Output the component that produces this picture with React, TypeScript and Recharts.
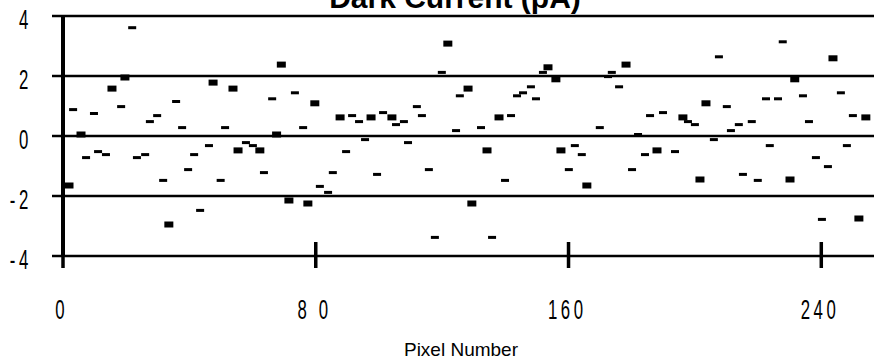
import React from 'react'
import { ScatterChart, Scatter, XAxis, YAxis, CartesianGrid } from 'recharts'

// readings drawn as thin dashes in the original
const dashPoints: Array<[number, number]> = [
    [3.2, 0.88], [9.8, 0.75], [18.4, 0.98], [21.9, 3.61], [27.5, 0.48], [29.8, 0.68],
    [35.8, 1.15], [37.7, 0.28], [51.3, 0.28], [66.2, 1.24], [73.4, 1.44], [76.0, 0.28],
    [91.5, 0.68], [93.7, 0.48], [101.3, 0.78], [105.4, 0.38], [107.9, 0.48], [112.0, 0.98],
    [113.6, 0.68], [119.9, 2.12], [124.4, 0.18], [125.6, 1.34], [132.3, 0.28], [141.8, 0.68],
    [143.7, 1.34], [145.6, 1.44], [148.1, 1.64], [149.7, 1.24], [151.9, 2.12], [169.9, 0.28],
    [172.5, 1.98], [173.7, 2.12], [176.0, 1.64], [182.0, 0.05], [185.8, 0.68], [189.9, 0.78],
    [197.8, 0.48], [200.0, 0.38], [207.6, 2.64], [210.1, 0.98], [211.4, 0.18], [213.9, 0.38],
    [218.0, 0.48], [222.5, 1.24], [226.3, 1.24], [227.8, 3.14], [234.2, 1.34], [236.1, 0.48],
    [246.2, 1.44], [250.0, 0.68],
    [7.3, -0.72], [11.1, -0.52], [13.6, -0.62], [23.4, -0.72], [26.0, -0.62], [31.7, -1.48],
    [39.6, -1.12], [41.5, -0.62], [43.4, -2.48], [46.2, -0.32], [49.9, -1.48], [57.9, -0.22],
    [60.1, -0.32], [63.6, -1.22], [81.3, -1.68], [83.9, -1.88], [85.4, -1.22], [89.6, -0.52],
    [95.6, -0.12], [99.4, -1.28], [109.2, -0.22], [115.8, -1.12], [117.7, -3.38], [135.8, -3.38],
    [139.9, -1.48], [160.1, -1.12], [162.0, -0.32], [164.2, -0.62], [180.1, -1.12], [184.2, -0.62],
    [193.7, -0.52], [206.0, -0.12], [215.2, -1.28], [219.9, -1.48], [223.7, -0.32], [238.3, -0.72],
    [240.2, -2.78], [242.1, -1.02], [248.1, -0.32],
]

// readings drawn as small blocks
const boxPoints: Array<[number, number]> = [
    [1.9, -1.65], [5.7, 0.05], [15.5, 1.58], [19.6, 1.95], [33.5, -2.95], [47.5, 1.78],
    [53.8, 1.58], [55.4, -0.48], [62.3, -0.48], [67.6, 0.05], [69.1, 2.38], [71.5, -2.15],
    [77.5, -2.25], [79.7, 1.09], [87.7, 0.62], [97.5, 0.62], [104.1, 0.62], [121.8, 3.08],
    [128.2, 1.58], [129.4, -2.25], [134.2, -0.48], [138.0, 0.62], [153.5, 2.29], [156.0, 1.89],
    [157.6, -0.48], [165.8, -1.65], [178.2, 2.38], [188.0, -0.48], [196.2, 0.62], [201.6, -1.45],
    [203.5, 1.09], [230.1, -1.45], [231.6, 1.89], [243.7, 2.59], [251.9, -2.75], [254.1, 0.62],
]

const xTicks = [0, 80, 160, 240]
const xTickLabels = ['0', '8 0', '160', '240']
const yTicks = [-4, -2, 0, 2, 4]

const FONT = '"Liberation Sans", Arial, sans-serif'

const Dash = (props: any) => (
    <rect x={props.cx - 4} y={props.cy - 1.5} width={8} height={3} fill="#000" />
)

const Box = (props: any) => (
    <rect x={props.cx - 4.5} y={props.cy - 3} width={9} height={6} fill="#000" />
)

const XTick = (props: any) => {
    const { x, y, payload } = props
    const label = xTickLabels[xTicks.indexOf(payload.value)] ?? String(payload.value)
    return (
        <g>
            <line x1={x} x2={x} y1={y - 14} y2={y + 12} stroke="#000" strokeWidth={3.5} />
            <text
                transform={`translate(${x - 1.2},${y + 63}) scale(0.6,1)`}
                textAnchor="middle"
                fontSize={28}
                letterSpacing={6}
                fontFamily={FONT}
                fill="#000"
            >
                {label}
            </text>
        </g>
    )
}

const YTick = (props: any) => {
    const { x, y, payload } = props
    return (
        <text
            transform={`translate(${x - 20},${y + 13}) scale(0.6,1)`}
            textAnchor="end"
            fontSize={28}
            letterSpacing={6}
            fontFamily={FONT}
            fill="#000"
        >
            {payload.value}
        </text>
    )
}

const AxisTitle = (props: any) => {
    const vb = props.viewBox || {}
    return (
        <text
            x={vb.x + vb.width / 2 - 8}
            y={vb.y + 100}
            textAnchor="middle"
            fontSize={19}
            fontFamily={FONT}
            fill="#000"
        >
            Pixel Number
        </text>
    )
}

export default function App() {
    const dashes = dashPoints.map(([x, y]) => ({ x, y }))
    const boxes = boxPoints.map(([x, y]) => ({ x, y }))
    return (
        <div style={{ position: 'fixed', left: 0, top: 0, width: 874, height: 362, overflow: 'hidden', background: '#fff' }}>
            <ScatterChart width={880} height={362} margin={{ top: 16, right: 5, bottom: 0, left: 0 }}>
                <CartesianGrid vertical={false} stroke="#000" strokeWidth={2.5} />
                <XAxis
                    type="number"
                    dataKey="x"
                    domain={[0, 257]}
                    ticks={xTicks}
                    height={106}
                    axisLine={false}
                    tickLine={false}
                    tickSize={0}
                    tickMargin={0}
                    tick={<XTick />}
                    label={{ content: <AxisTitle /> }}
                />
                <YAxis
                    type="number"
                    dataKey="y"
                    domain={[-4, 4]}
                    ticks={yTicks}
                    width={63}
                    tickSize={11}
                    tickMargin={0}
                    axisLine={{ stroke: '#000', strokeWidth: 4 }}
                    tickLine={{ stroke: '#000', strokeWidth: 2.5 }}
                    tick={<YTick />}
                />
                <Scatter data={dashes} shape={<Dash />} isAnimationActive={false} />
                <Scatter data={boxes} shape={<Box />} isAnimationActive={false} />
            </ScatterChart>
            <svg width={874} height={40} style={{ position: 'absolute', left: 0, top: 0, pointerEvents: 'none' }}>
                <text x={455} y={8} textAnchor="middle" fontSize={30} fontWeight="bold" fontFamily={FONT} fill="#000">
                    Dark Current (pA)
                </text>
            </svg>
        </div>
    )
}
